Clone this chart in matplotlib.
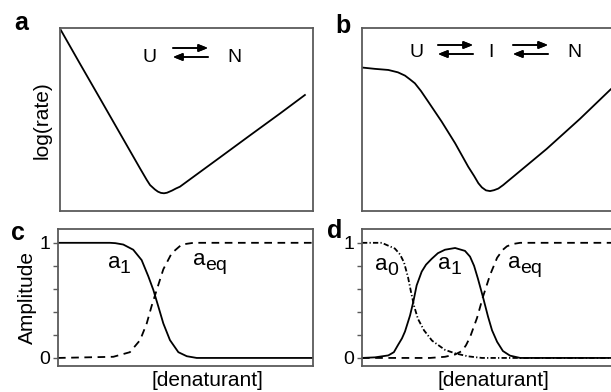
import matplotlib
matplotlib.use("Agg")
import matplotlib.pyplot as plt

plt.rcParams['font.family'] = ['Liberation Sans', 'DejaVu Sans']
plt.rcParams['lines.scale_dashes'] = False

# ---- chevron plots (denaturant scaled 0..1, log rate scaled 0..1) ----
a_den = [0.003, 0.079, 0.158, 0.237, 0.316, 0.343, 0.356, 0.375, 0.387, 0.399,
         0.411, 0.423, 0.443, 0.458, 0.474, 0.553, 0.632, 0.751, 0.870, 0.968]
a_logk = [0.991, 0.806, 0.616, 0.425, 0.234, 0.170, 0.142, 0.118, 0.106, 0.099,
          0.097, 0.100, 0.112, 0.123, 0.133, 0.213, 0.293, 0.414, 0.534, 0.635]

b_den = [0.002, 0.051, 0.104, 0.142, 0.170, 0.190, 0.209, 0.233, 0.262, 0.315,
         0.368, 0.420, 0.443, 0.460, 0.474, 0.490, 0.506, 0.522, 0.539, 0.558,
         0.577, 0.598, 0.730, 0.862, 0.980, 1.000]
b_logk = [0.785, 0.778, 0.772, 0.759, 0.741, 0.720, 0.699, 0.657, 0.598, 0.489,
          0.371, 0.242, 0.192, 0.152, 0.129, 0.113, 0.109, 0.114, 0.123, 0.142,
          0.164, 0.188, 0.340, 0.505, 0.662, 0.687]

# ---- amplitudes, two-state ----
c_den_a1 = [0.001, 0.204, 0.225, 0.256, 0.295, 0.328, 0.354, 0.374, 0.393, 0.413,
            0.439, 0.472, 0.505, 0.544, 1.0]
c_a1 = [1.0, 1.0, 0.997, 0.985, 0.94, 0.85, 0.71, 0.59, 0.45, 0.30,
        0.155, 0.05, 0.015, 0.0, 0.0]
c_den_aeq = [0.0, 0.217, 0.282, 0.322, 0.348, 0.367, 0.387, 0.413, 0.446, 0.485,
             0.531, 1.0]
c_aeq = [0.0, 0.01, 0.05, 0.155, 0.30, 0.45, 0.59, 0.77, 0.91, 0.985, 1.0, 1.0]

# ---- amplitudes, three-state ----
d_den_a0 = [0.0, 0.078, 0.130, 0.150, 0.166, 0.182, 0.194, 0.206, 0.221, 0.245,
            0.277, 0.328, 0.368, 0.419, 0.474, 1.0]
d_a0 = [1.0, 1.0, 0.95, 0.90, 0.83, 0.70, 0.57, 0.45, 0.34, 0.24,
        0.15, 0.07, 0.04, 0.014, 0.0, 0.0]
d_den_a1 = [0.0, 0.051, 0.104, 0.126, 0.143, 0.158, 0.170, 0.190, 0.203, 0.216,
            0.236, 0.253, 0.275, 0.300, 0.328, 0.368, 0.407, 0.427, 0.443, 0.458,
            0.478, 0.498, 0.514, 0.534, 0.557, 0.585, 0.625, 1.0]
d_a1 = [0.0, 0.005, 0.022, 0.05, 0.115, 0.17, 0.23, 0.37, 0.49, 0.63,
        0.75, 0.81, 0.86, 0.91, 0.94, 0.955, 0.93, 0.88, 0.80, 0.69,
        0.53, 0.36, 0.24, 0.14, 0.06, 0.02, 0.0, 0.0]
d_den_aeq = [0.0, 0.269, 0.328, 0.368, 0.395, 0.411, 0.427, 0.455, 0.478, 0.506,
             0.534, 0.557, 0.573, 0.597, 0.625, 1.0]
d_aeq = [0.0, 0.0, 0.01, 0.03, 0.06, 0.11, 0.18, 0.35, 0.53, 0.72,
         0.87, 0.94, 0.97, 0.99, 1.0, 1.0]

amp_ticks = [0, 0.2, 0.4, 0.6, 0.8, 1.0]
amp_labels = ['0', '', '', '', '', '1']

W, H = 611, 392
fig = plt.figure(figsize=(W / 100, H / 100), dpi=100)


def box(x0, y0, x1, y1):
    # pixel box (top-left origin) -> figure fraction rect
    return [x0 / W, 1 - y1 / H, (x1 - x0) / W, (y1 - y0) / H]


ax_a = fig.add_axes(box(60, 28.3, 313, 211))
ax_b = fig.add_axes(box(362, 28.3, 615, 211))
ax_c = fig.add_axes(box(58, 229, 313, 366))
ax_d = fig.add_axes(box(362, 229, 615, 366))

spine_col = '#5a5a5a'
for ax in (ax_a, ax_b, ax_c, ax_d):
    ax.set_xlim(0, 1)
    ax.set_xticks([])
    for s in ax.spines.values():
        s.set_color(spine_col)
        s.set_linewidth(1.3)

LW = 1.3
dash = (0, (5.5, 4.0))
dashdot = (0, (3.8, 1.6, 0.9, 1.6))

for ax, xs, ys in ((ax_a, a_den, a_logk), (ax_b, b_den, b_logk)):
    ax.plot(xs, ys, color='black', lw=LW, solid_joinstyle='round')
    ax.set_ylim(0, 1)
    ax.set_yticks([])

ax_a.set_ylabel('log(rate)', fontsize=15, labelpad=6)

for ax in (ax_c, ax_d):
    ax.set_ylim(-0.07, 1.12)
    ax.set_yticks(amp_ticks)
    ax.set_yticklabels(amp_labels)
    ax.tick_params(axis='y', direction='out', length=3.5, width=1.0,
                   color=spine_col, labelsize=14, pad=2)

ax_c.plot(c_den_aeq, c_aeq, color='black', lw=LW, linestyle=dash)
ax_c.plot(c_den_a1, c_a1, color='black', lw=LW, solid_joinstyle='round')
ax_c.set_ylabel('Amplitude', fontsize=15, labelpad=2)

ax_d.plot(d_den_aeq, d_aeq, color='black', lw=LW, linestyle=dash)
ax_d.plot(d_den_a0, d_a0, color='black', lw=LW, linestyle=dashdot)
ax_d.plot(d_den_a1, d_a1, color='black', lw=LW, solid_joinstyle='round')

# x labels
fig.text(207 / W, 1 - 381 / H, '[denaturant]', fontsize=15, ha='center', va='center')
fig.text(493 / W, 1 - 381 / H, '[denaturant]', fontsize=15, ha='center', va='center')

# panel letters
for lbl, x, y in (('a', 14, 30), ('b', 335, 33), ('c', 11, 240), ('d', 327, 238)):
    fig.text(x / W, 1 - y / H, lbl, fontsize=18, fontweight='bold',
             ha='left', va='baseline')


# curve labels: amplitude symbol with a lowered index
def amp_label(sub, x, y):
    fig.text(x / W, 1 - y / H, 'a', fontsize=16, ha='left', va='baseline')
    fig.text((x + 12) / W, 1 - (y + 5) / H, sub, fontsize=14,
             ha='left', va='baseline')


amp_label('1', 108, 268)
amp_label('eq', 193, 265)
amp_label('0', 375, 270)
amp_label('1', 438, 269)
amp_label('eq', 508, 268)


# reaction schemes
def species(s, x, y):
    fig.text(x / W, 1 - y / H, s, fontsize=14, ha='left', va='baseline')


def equilibrium(x0, x1, ytop, ybot):
    kw = dict(arrowstyle='-|>,head_length=0.55,head_width=0.22', lw=1.2,
              color='black', shrinkA=0, shrinkB=0)
    fig.add_artist(plt.annotate('', xy=(x1, H - ytop), xytext=(x0, H - ytop),
                                xycoords='figure pixels', arrowprops=kw))
    fig.add_artist(plt.annotate('', xy=(x0, H - ybot), xytext=(x1, H - ybot),
                                xycoords='figure pixels', arrowprops=kw))


species('U', 142, 62)
equilibrium(173, 208, 48, 57)
species('N', 227, 62)

species('U', 410, 57)
equilibrium(438, 473, 45, 54)
species('I', 488, 57)
equilibrium(513, 548, 45, 54)
species('N', 567, 57)

fig.savefig('out.png', dpi=100)
